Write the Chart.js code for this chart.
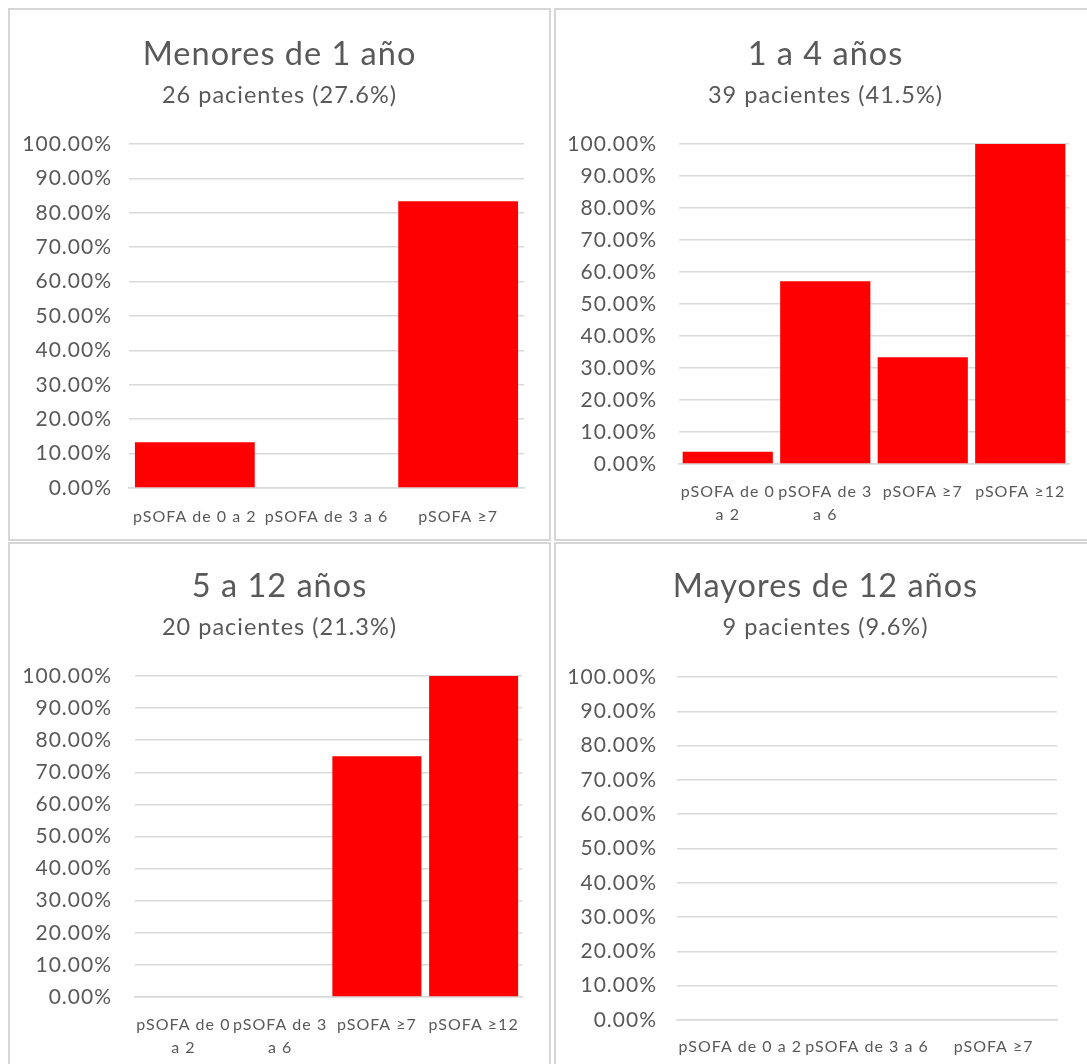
<!DOCTYPE html>
<html>
<head>
<meta charset="utf-8">
<script src="https://cdn.jsdelivr.net/npm/chart.js@4.4.1/dist/chart.umd.min.js"></script>
<style>
  html, body { margin: 0; padding: 0; background: #ffffff; overflow: hidden; }
  body { width: 1087px; height: 1064px; position: relative; }
  .panel { position: absolute; border: 2px solid #d6d6d6; background: #fff; }
  .panel canvas { display: block; }
</style>
</head>
<body>
<div class="panel" id="p1" style="left:8px;top:8px;width:539px;height:529px"><canvas id="c1"></canvas></div>
<div class="panel" id="p2" style="left:554px;top:8px;width:539px;height:529px"><canvas id="c2"></canvas></div>
<div class="panel" id="p3" style="left:8px;top:542px;width:539px;height:530px"><canvas id="c3"></canvas></div>
<div class="panel" id="p4" style="left:554px;top:542px;width:539px;height:530px"><canvas id="c4"></canvas></div>
<script>
// pSOFA categories (three-group and four-group versions)
const categories3 = ['pSOFA de 0 a 2', 'pSOFA de 3 a 6', 'pSOFA ≥7'];
const categories4 = [['pSOFA de 0', 'a 2'], ['pSOFA de 3', 'a 6'], 'pSOFA ≥7', 'pSOFA ≥12'];

// Percentage per pSOFA group for each age group
const menoresUnAnio = [13.33, 0, 83.33];
const unoACuatro = [3.85, 57.14, 33.33, 100];
const cincoADoce = [0, 0, 75, 100];
const mayoresDoce = [0, 0, 0];

// Panel headings
const titles = ['Menores de 1 año', '1 a 4 años', '5 a 12 años', 'Mayores de 12 años'];
const subtitles = ['26 pacientes (27.6%)', '39 pacientes (41.5%)', '20 pacientes (21.3%)', '9 pacientes (9.6%)'];

// Y axis ticks
const yMin = 0, yMax = 100, yStep = 10;

const FONT = 'Lato, "Open Sans", sans-serif';
const TEXT = '#595959';
const GRID = '#d9d9d9';

// Slightly open letter spacing for all chart text
const spacingPlugin = {
  id: 'spacing',
  beforeUpdate(chart) { chart.ctx.letterSpacing = '1px'; },
  beforeLayout(chart) { chart.ctx.letterSpacing = '1px'; },
  beforeDraw(chart) { chart.ctx.letterSpacing = '1px'; }
};

// Geometry of each panel: canvas size, heading centres and plot box
const geo = [
  { w: 539, h: 529, titleC: 45, subC: 85, top: 134, bottom: 478, left: 119, right: 514, labelRight: 102, bar: 0.91, xPad: 17 },
  { w: 539, h: 529, titleC: 45, subC: 85, top: 134, bottom: 454, left: 123, right: 513, labelRight: 101, bar: 0.925, xPad: 16 },
  { w: 539, h: 530, titleC: 43, subC: 83, top: 132, bottom: 453, left: 125, right: 512, labelRight: 102, bar: 0.92, xPad: 16 },
  { w: 539, h: 530, titleC: 43, subC: 83, top: 133, bottom: 476, left: 121, right: 501, labelRight: 101, bar: 0.9, xPad: 15 }
];

function makeChart(id, labels, values, idx) {
  const g = geo[idx];
  const titleSize = 32.5, subSize = 23.5, lh = 1.2;
  const tH = titleSize * lh, sH = subSize * lh;
  const canvas = document.getElementById(id);
  canvas.width = g.w; canvas.height = g.h;
  canvas.style.width = g.w + 'px'; canvas.style.height = g.h + 'px';
  return new Chart(canvas, {
    type: 'bar',
    plugins: [spacingPlugin],
    data: {
      labels: labels,
      datasets: [{
        data: values,
        backgroundColor: '#ff0000',
        borderWidth: 0,
        categoryPercentage: 1,
        barPercentage: g.bar
      }]
    },
    options: {
      responsive: false,
      animation: false,
      devicePixelRatio: 1,
      layout: { padding: 0 },
      plugins: {
        legend: { display: false },
        tooltip: { enabled: false },
        title: {
          display: true,
          text: titles[idx],
          color: TEXT,
          font: { family: FONT, size: titleSize, weight: 'normal', lineHeight: lh },
          padding: { top: g.titleC - tH / 2, bottom: (g.subC - sH / 2) - (g.titleC + tH / 2) }
        },
        subtitle: {
          display: true,
          text: subtitles[idx],
          color: TEXT,
          font: { family: FONT, size: subSize, weight: 'normal', lineHeight: lh },
          padding: { top: 0, bottom: g.top - (g.subC + sH / 2) }
        }
      },
      scales: {
        x: {
          grid: { display: false, drawTicks: false },
          border: { display: true, color: GRID, width: 1.5 },
          ticks: { color: TEXT, font: { family: FONT, size: 16, lineHeight: 1.45 }, padding: g.xPad, maxRotation: 0, autoSkip: false },
          afterFit: (s) => { s.height = g.h - g.bottom; }
        },
        y: {
          min: yMin, max: yMax,
          grid: { color: GRID, lineWidth: 1.5, drawTicks: false },
          border: { display: false },
          ticks: {
            stepSize: yStep,
            color: TEXT,
            font: { family: FONT, size: 21 },
            padding: g.left - g.labelRight,
            callback: (v) => v.toFixed(2) + '%'
          },
          afterFit: (s) => { s.width = g.left; }
        },
        // blank margin on the right so headings stay centred on the panel
        margin: {
          type: 'linear',
          position: 'right',
          display: true,
          grid: { display: false, drawTicks: false },
          border: { display: false },
          ticks: { display: false },
          afterFit: (s) => { s.width = g.w - g.right; }
        }
      }
    }
  });
}

makeChart('c1', categories3, menoresUnAnio, 0);
makeChart('c2', categories4, unoACuatro, 1);
makeChart('c3', categories4, cincoADoce, 2);
makeChart('c4', categories3, mayoresDoce, 3);
</script>
</body>
</html>
